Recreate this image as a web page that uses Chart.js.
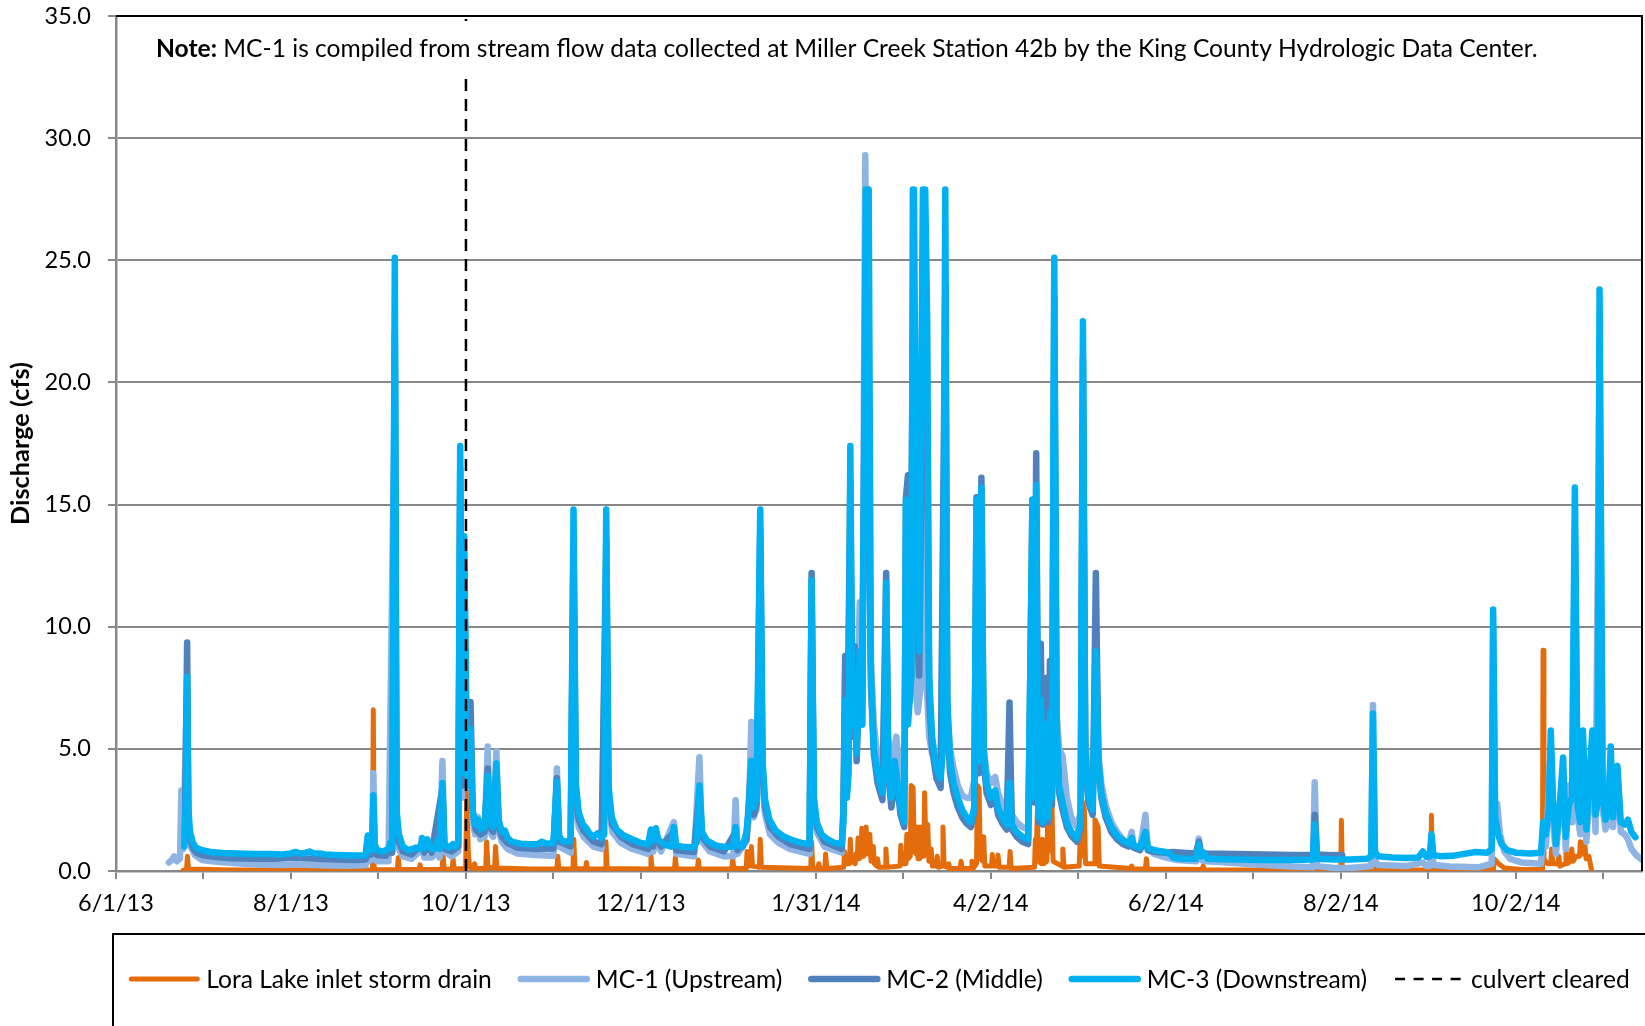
<!DOCTYPE html>
<html>
<head>
<meta charset="utf-8">
<title>Miller Creek discharge</title>
<script src="https://cdn.jsdelivr.net/npm/chart.js@4.4.1/dist/chart.umd.min.js"></script>
<style>
  html, body { margin: 0; padding: 0; background: #fff; }
  #wrap { width: 1645px; height: 1026px; }
</style>
</head>
<body>
<div id="wrap"><canvas id="flow" width="1645" height="1026"></canvas></div>
<script>
// ---- record dates and axis labels ----
const RECORD_START = '6/1/13';          // day 0 of every series below
const AXIS_END = '11/15/14';
const CULVERT_CLEARED = '10/1/13';
const tickLabels = ['6/1/13', '8/1/13', '10/1/13', '12/1/13', '1/31/14', '4/2/14', '6/2/14', '8/2/14', '10/2/14'];
const yMax = 35;
const yStep = 5;

const seriesNames = ['Lora Lake inlet storm drain', 'MC-1 (Upstream)', 'MC-2 (Middle)', 'MC-3 (Downstream)', 'culvert cleared'];
const noteLead = 'Note:';
const noteBody = ' MC-1 is compiled from stream flow data collected at Miller Creek Station 42b by the King County Hydrologic Data Center.';
const yTitle = 'Discharge (cfs)';

// ---- discharge records: [days since RECORD_START, cfs] ----
const loraLake = [
  [23.4, 0.03], [24.6, 0.08], [24.9, 0.6], [25.3, 0.08], [40, 0.04], [60, 0.04], [80, 0.04], [89.4, 0.05], [89.7, 6.6], [90.0, 0.15],
  [90.5, 0.05], [98.1, 0.06], [98.4, 0.55], [98.8, 0.06], [105.7, 0.06], [106, 0.25], [106.4, 0.06], [113.7, 0.06], [114, 0.7], [114.4, 0.08],
  [117.2, 0.06], [117.5, 0.5], [117.9, 0.08], [121.9, 0.1], [122.3, 3.3], [122.8, 0.8], [123.3, 0.15], [124.7, 0.1], [125, 0.3], [125.4, 0.1],
  [128.9, 0.1], [129.2, 1.2], [129.7, 0.15], [132, 0.12], [132.3, 1.0], [132.8, 0.12], [145, 0.08], [153.7, 0.08], [154, 0.6], [154.4, 0.08],
  [159.3, 0.08], [159.6, 1.3], [160, 0.1], [163.7, 0.08], [164, 0.35], [164.4, 0.08], [170.5, 0.08], [170.8, 1.2], [171.2, 0.1], [186.2, 0.08],
  [186.5, 0.6], [186.9, 0.08], [194.7, 0.08], [195, 0.55], [195.4, 0.08], [202.7, 0.08], [203, 0.45], [203.4, 0.08], [214.7, 0.08], [215, 0.5],
  [215.4, 0.1], [219.7, 0.1], [220, 0.8], [220.4, 0.2], [221.2, 0.2], [221.5, 1.0], [221.9, 0.2], [224.3, 0.15], [224.6, 1.3], [225, 0.15],
  [242.2, 0.1], [242.5, 1.2], [242.9, 0.1], [244.7, 0.1], [245, 0.3], [245.4, 0.1], [247.1, 0.1], [247.4, 0.7], [247.8, 0.1], [253.7, 0.15],
  [254, 0.8], [254.4, 0.3], [255.7, 0.3], [256, 1.3], [256.4, 0.4], [257.7, 0.3], [258, 0.7], [258.4, 0.5], [258.7, 1.35], [259.1, 0.5],
  [259.7, 0.6], [260, 1.75], [260.5, 0.6], [261.2, 0.7], [261.5, 1.8], [262, 0.7], [262.5, 0.7], [262.8, 1.5], [263.2, 0.4], [263.7, 0.4],
  [264, 1.0], [264.4, 0.3], [265.2, 0.2], [265.5, 0.5], [265.9, 0.15], [268.1, 0.15], [268.4, 0.9], [268.8, 0.15], [273.3, 0.2], [273.6, 1.05],
  [274, 0.3], [275.4, 0.3], [275.7, 1.5], [276.1, 0.5], [276.9, 0.6], [277.2, 3.5], [277.9, 3.4], [278.3, 0.8], [278.9, 0.7], [279.2, 1.8],
  [279.6, 0.5], [280.2, 0.5], [280.5, 1.8], [280.9, 0.6], [281.6, 0.6], [281.9, 3.2], [282.4, 0.8], [282.7, 0.8], [283, 1.9], [283.4, 0.4],
  [283.9, 0.4], [284.2, 0.9], [284.6, 0.2], [286, 0.2], [286.3, 0.6], [286.7, 0.15], [288, 0.2], [288.3, 1.8], [288.7, 0.2], [290, 0.15],
  [290.3, 0.3], [290.7, 0.1], [294.3, 0.1], [294.6, 0.4], [295, 0.1], [298.1, 0.1], [298.4, 0.4], [298.8, 0.1], [300, 0.3], [300.3, 3.5],
  [300.9, 3.4], [301.3, 0.5], [302.2, 0.4], [302.5, 1.4], [302.9, 0.2], [305.2, 0.2], [305.5, 0.68], [305.9, 0.2], [307.2, 0.2], [307.5, 0.65],
  [307.9, 0.15], [311.4, 0.15], [311.7, 0.8], [312.1, 0.1], [320.2, 0.15], [320.5, 1.3], [320.8, 0.6], [321.2, 2.4], [321.6, 0.4], [322.7, 0.3],
  [323, 1.3], [323.4, 0.3], [324.5, 0.4], [324.8, 2.2], [325.2, 0.8], [325.6, 2.8], [326.3, 2.7], [326.7, 0.4], [329.8, 0.2], [330.1, 0.9],
  [330.5, 0.15], [335.8, 0.2], [336.1, 1.2], [336.5, 0.6], [336.8, 2.86], [337.6, 2.5], [338, 0.3], [341, 0.3], [341.3, 2.1], [342.4, 1.8],
  [342.8, 0.2], [353.8, 0.1], [354.1, 0.2], [354.5, 0.08], [358.9, 0.08], [359.2, 0.5], [359.6, 0.08], [378.7, 0.06], [379, 0.2], [379.4, 0.05],
  [418.2, 0.04], [418.5, 0.15], [418.9, 0.04], [427, 0.04], [427.2, 2.08], [427.5, 0.04], [438, 0.04], [438.2, 0.3], [438.5, 0.04], [458.4, 0.05],
  [458.6, 2.28], [458.9, 0.05], [480.2, 0.05], [480.5, 0.5], [482, 0.3], [484, 0.12], [490, 0.06], [497.3, 0.06], [497.5, 9.04], [497.8, 0.5],
  [499, 0.3], [500.2, 0.3], [500.5, 0.9], [500.9, 0.3], [502.7, 0.3], [503, 0.6], [503.4, 0.2], [505.2, 0.3], [505.5, 0.9], [505.9, 0.3],
  [507.2, 0.4], [507.5, 0.9], [508, 0.4], [509, 0.6], [510.2, 0.6], [510.5, 1.2], [511, 0.7], [511.7, 0.7], [512, 1.2], [512.5, 0.5],
  [513.5, 0.6], [514.4, 0.03]
];

const mc1 = [
  [18.4, 0.35], [19.5, 0.45], [20.2, 0.6], [21.2, 0.4], [22.3, 0.5], [22.8, 3.3], [23.4, 0.9], [24.8, 7.5], [25.3, 1.8], [26, 1.0],
  [27.5, 0.65], [30, 0.45], [35, 0.38], [42, 0.32], [50, 0.27], [58, 0.25], [63, 0.28], [68, 0.25], [75, 0.23], [82, 0.22],
  [87, 0.24], [87.8, 1.2], [88.4, 0.4], [89.3, 0.5], [89.7, 4.0], [90.2, 0.7], [91, 0.4], [95, 0.4], [97.2, 20.0], [97.8, 1.9],
  [98.6, 0.9], [100, 0.6], [103, 0.5], [106.7, 0.9], [107.5, 0.55], [110, 0.55], [112, 0.8], [112.8, 0.55], [113.8, 4.5], [114.5, 0.8],
  [117, 0.6], [119.3, 0.8], [120, 15.0], [120.6, 3.0], [121.4, 11.5], [122.3, 4.0], [123.6, 4.5], [124.4, 2.0], [125.2, 1.5], [126.3, 2.2],
  [127, 1.3], [128.5, 1.4], [129.6, 5.1], [130.3, 1.6], [131.5, 1.4], [132.6, 4.9], [133.4, 1.7], [134.5, 1.2], [136.5, 0.9], [140, 0.72],
  [146, 0.65], [152.5, 0.62], [153.7, 4.2], [154.5, 1.0], [158.5, 0.75], [159.5, 12.5], [160.3, 2.8], [161.3, 1.8], [163, 1.4], [166.5, 1.0],
  [169.3, 0.9], [170.9, 12.5], [171.7, 2.8], [173, 1.6], [176, 1.15], [180, 0.9], [185.5, 0.7], [186.5, 1.3], [187.3, 0.8], [188.2, 1.3],
  [190, 0.8], [194.5, 2.0], [195.3, 0.7], [201.5, 0.6], [203.4, 4.66], [204.3, 1.2], [207, 0.8], [212, 0.6], [215.2, 0.6], [216, 2.9],
  [216.7, 0.7], [219.8, 1.2], [220.6, 2.2], [221.5, 6.1], [222.3, 2.2], [223.3, 2.5], [224.6, 13.0], [225.4, 3.5], [226.3, 2.3], [228, 1.5],
  [231, 1.15], [235, 0.9], [241.8, 0.7], [242.5, 11.0], [243.3, 2.4], [244.3, 1.6], [247, 1.0], [253, 0.75], [253.6, 2.5], [254.2, 8.0],
  [254.8, 3.5], [256.0, 14.0], [256.7, 6.5], [257.5, 9.0], [258.2, 6.0], [259.3, 11.0], [260.2, 7.0], [261.2, 29.3], [262.3, 16.0], [263.2, 8.5],
  [264.2, 6.0], [265.5, 4.6], [267.2, 3.6], [268.5, 10.5], [269.2, 5.5], [270.3, 4.0], [272, 5.5], [273.5, 3.8], [274.8, 3.2], [275.4, 12.0],
  [276.1, 8.0], [277.0, 7.5], [277.8, 22.0], [278.6, 8.0], [279.5, 6.5], [280.5, 7.5], [281.5, 20.0], [282.5, 8.0], [283.5, 5.5], [284.5, 4.8],
  [286, 4.6], [287.5, 4.2], [289.1, 20.0], [289.8, 6.5], [290.8, 5.0], [292, 4.2], [293.5, 3.5], [295, 3.1], [296.5, 3.0], [298, 3.0],
  [299.2, 3.7], [300.0, 12.0], [300.8, 4.5], [301.7, 13.0], [302.5, 5.0], [303.5, 4.0], [305, 3.6], [306.5, 3.85], [307.5, 3.2], [309, 2.7],
  [310.5, 2.4], [311.5, 5.0], [312.3, 2.3], [314, 2.0], [316, 1.8], [318, 1.7], [319.5, 12.0], [320.2, 3.0], [320.8, 14.0], [321.6, 2.4],
  [322.4, 7.5], [323.2, 2.4], [324.3, 6.5], [325.0, 2.5], [325.6, 7.0], [326.3, 3.2], [327.1, 21.0], [327.9, 6.5], [328.8, 5.0], [330, 4.7],
  [331.5, 3.0], [333, 2.2], [335, 1.8], [336.3, 2.4], [337.1, 19.0], [337.9, 5.5], [339, 3.5], [340.5, 3.0], [341.6, 10.0], [342.5, 4.8],
  [343.5, 3.6], [345, 2.7], [347, 2.0], [349, 1.6], [351, 1.3], [353, 1.1], [354.1, 1.6], [354.8, 1.0], [357, 0.9], [358.9, 2.3],
  [359.7, 0.9], [362, 0.7], [366, 0.55], [370, 0.45], [376.5, 0.4], [377.5, 1.33], [378.3, 0.45], [380, 0.4], [390, 0.33], [400, 0.25],
  [410, 0.18], [417.3, 0.15], [417.9, 3.63], [418.7, 0.2], [425, 0.12], [430, 0.12], [437.6, 0.2], [438.2, 6.8], [438.9, 0.4], [440, 0.25],
  [450, 0.2], [455.6, 0.35], [456.8, 0.2], [458.0, 0.2], [458.6, 1.3], [459.3, 0.25], [465, 0.18], [475, 0.15], [479.6, 0.3], [480.1, 10.0],
  [480.8, 2.0], [481.5, 2.76], [482.5, 1.5], [484, 0.8], [486, 0.5], [490, 0.35], [496.8, 0.3], [497.5, 1.5], [498.5, 1.0], [500.2, 5.0],
  [501, 2.0], [502, 0.7], [504.5, 4.0], [505.4, 0.9], [506.5, 3.5], [507.6, 2.0], [508.6, 14.0], [509.6, 2.2], [510.5, 1.5], [511.4, 5.0],
  [512.6, 1.2], [514.7, 5.0], [515.8, 1.6], [517.2, 21.0], [518.3, 2.5], [519.3, 1.7], [520.2, 2.0], [521.1, 4.6], [521.9, 1.8], [523.4, 4.2],
  [524.6, 1.6], [526, 1.5], [527.1, 1.3], [528.3, 0.9], [530, 0.65], [532, 0.46]
];

const mc2 = [
  [24.0, 1.5], [24.8, 9.35], [25.2, 2.2], [25.8, 1.3], [26.8, 0.95], [28, 0.75], [30, 0.65], [34, 0.58], [40, 0.52], [48, 0.5],
  [56, 0.5], [62.5, 0.55], [66, 0.52], [70, 0.5], [76, 0.47], [84, 0.45], [87, 0.47], [87.8, 1.4], [88.4, 0.65], [89.3, 0.7],
  [89.7, 2.6], [90.2, 0.9], [91, 0.65], [94, 0.62], [95.6, 0.9], [96.3, 0.75], [97.2, 22.0], [97.8, 2.2], [98.6, 1.2], [100, 0.8],
  [103, 0.68], [106.7, 1.1], [107.5, 0.75], [108.5, 1.05], [110, 0.75], [113.8, 3.4], [114.5, 0.9], [117, 0.8], [119.3, 1.0], [120, 16.5],
  [120.6, 3.5], [121.4, 12.5], [122.3, 4.5], [123.6, 6.92], [124.4, 2.4], [125.4, 1.7], [127, 1.5], [128.5, 1.6], [129.6, 4.2], [130.3, 1.8],
  [131.5, 1.6], [132.6, 4.0], [133.4, 1.9], [134.5, 1.4], [136.5, 1.15], [140, 0.95], [146, 0.9], [152.5, 0.92], [153.7, 3.8], [154.5, 1.2],
  [158.5, 1.0], [159.5, 13.5], [160.3, 3.2], [161.3, 2.1], [163, 1.65], [166.5, 1.2], [169.3, 1.1], [170.9, 13.5], [171.7, 3.1], [173, 1.9],
  [176, 1.4], [180, 1.1], [185.5, 0.9], [186.5, 1.5], [187.3, 1.0], [188.2, 1.5], [190, 1.0], [194.5, 1.6], [195.3, 0.85], [201.5, 0.78],
  [203.4, 3.3], [204.3, 1.4], [207, 1.0], [212, 0.8], [216, 1.6], [216.7, 0.85], [219.8, 1.3], [221.5, 4.5], [222.3, 2.3], [223.3, 2.7],
  [224.6, 14.0], [225.4, 4.0], [226.3, 2.6], [228, 1.8], [231, 1.4], [235, 1.1], [241.8, 0.9], [242.5, 12.2], [243.3, 2.7], [244.3, 1.8],
  [247, 1.2], [253, 0.9], [253.6, 2.5], [254.2, 8.8], [254.8, 3.2], [256.0, 16.0], [256.7, 5.5], [257.5, 9.2], [258.2, 4.5], [259.3, 8.5],
  [260, 6.0], [261.6, 26.5], [263.2, 7.5], [264.2, 4.8], [265.5, 3.6], [267.2, 2.9], [268.5, 12.2], [269.2, 4.0], [270.3, 2.6], [272, 4.0],
  [273.5, 2.3], [274.8, 1.8], [275.4, 15.3], [276.1, 16.2], [276.8, 7.0], [278, 25.0], [279.0, 10.5], [280.0, 8.0], [281.7, 25.0], [282.8, 18.0],
  [283.5, 7.0], [284.5, 5.0], [286, 3.8], [287.5, 3.4], [289.1, 24.0], [289.8, 6.0], [290.8, 4.0], [292, 3.2], [293.5, 2.6], [295, 2.2],
  [296.5, 1.95], [298, 1.8], [299.2, 2.4], [300.0, 15.3], [300.8, 4.0], [301.7, 16.1], [302.5, 4.5], [303.5, 3.2], [305, 2.7], [306.5, 3.1],
  [307.5, 2.3], [309, 1.95], [310.5, 1.7], [311.5, 6.9], [312.3, 1.7], [314, 1.4], [316, 1.2], [318, 1.1], [319.5, 15.2], [320.2, 2.8],
  [320.8, 17.1], [321.6, 2.0], [322.4, 9.3], [323.2, 1.9], [324.3, 7.9], [325.0, 2.0], [325.6, 8.6], [326.3, 2.7], [327.1, 23.5], [327.9, 5.5],
  [328.8, 3.2], [330, 2.5], [331.5, 1.8], [333, 1.45], [335, 1.2], [336.3, 1.8], [337.1, 21.0], [337.9, 4.6], [339, 2.8], [340.5, 2.3],
  [341.6, 12.2], [342.5, 4.2], [343.5, 3.0], [345, 2.2], [347, 1.6], [349, 1.3], [351, 1.1], [353, 1.0], [354.1, 1.2], [354.8, 0.95],
  [357, 0.85], [358.9, 1.4], [359.7, 0.85], [362, 0.78], [366, 0.75], [368.5, 0.78], [372, 0.75], [376.5, 0.72], [377.5, 1.2], [378.3, 0.75],
  [380, 0.72], [390, 0.7], [400, 0.68], [410, 0.66], [417.3, 0.66], [417.9, 2.3], [418.7, 0.68], [424, 0.65], [427.5, 0.64]
];

const mc3 = [
  [23.8, 1.0], [24.4, 3.0], [24.8, 7.95], [25.2, 2.6], [25.8, 1.6], [26.8, 1.15], [28, 0.95], [30, 0.85], [33, 0.78], [37, 0.74],
  [42, 0.72], [48, 0.7], [54, 0.7], [58, 0.68], [61, 0.72], [62.5, 0.78], [64, 0.72], [66, 0.74], [67.5, 0.8], [69, 0.72],
  [71, 0.72], [73, 0.68], [76, 0.66], [80, 0.64], [84, 0.63], [87, 0.65], [87.8, 1.45], [88.4, 0.85], [89.3, 0.9], [89.7, 3.1],
  [90.2, 1.1], [91, 0.85], [93, 0.8], [95, 0.9], [95.6, 1.15], [96.3, 0.95], [97.2, 25.1], [97.8, 2.5], [98.6, 1.5], [100, 1.0],
  [102, 0.85], [104.4, 0.95], [106.2, 0.9], [106.7, 1.35], [107.3, 0.95], [108.5, 1.3], [109.5, 0.95], [111, 0.9], [112, 1.25], [112.8, 0.9],
  [113.8, 3.6], [114.5, 1.1], [116, 0.95], [117.5, 1.1], [118.5, 1.0], [119.3, 1.2], [120.0, 17.4], [120.6, 4.0], [121.4, 13.7], [122.2, 5.0],
  [122.8, 3.5], [123.6, 5.8], [124.3, 2.5], [125.2, 1.9], [126.3, 2.1], [127, 1.7], [128.5, 1.8], [129.6, 3.9], [130.3, 2.0], [131.5, 1.8],
  [132.6, 4.4], [133.4, 2.1], [134.5, 1.6], [135.6, 1.65], [136.5, 1.35], [138, 1.2], [141, 1.12], [144, 1.1], [147, 1.1], [148.5, 1.2],
  [150, 1.12], [152.5, 1.15], [153.7, 3.65], [154.5, 1.4], [156, 1.2], [158.5, 1.25], [159.5, 14.8], [160.3, 3.6], [161.3, 2.4], [162.8, 1.9],
  [164, 1.75], [165, 1.55], [166.5, 1.4], [168, 1.55], [169.3, 1.35], [170.2, 1.5], [170.9, 14.8], [171.7, 3.5], [172.8, 2.2], [174.5, 1.7],
  [177, 1.45], [180, 1.3], [183, 1.15], [185.5, 1.1], [186.5, 1.7], [187.3, 1.25], [188.2, 1.75], [189, 1.3], [191, 1.1], [193.5, 1.0],
  [194.5, 1.8], [195.3, 1.05], [198, 0.98], [201.5, 0.97], [202.5, 1.2], [203.4, 3.5], [204.3, 1.6], [206, 1.25], [209, 1.05], [212, 0.98],
  [215.2, 1.0], [216.0, 1.8], [216.7, 1.05], [218.5, 1.0], [219.8, 1.6], [220.6, 2.5], [221.5, 4.5], [222.3, 2.6], [223.3, 3.0], [224.6, 14.8],
  [225.4, 4.5], [226.3, 2.9], [227.8, 2.1], [230, 1.65], [233, 1.4], [236, 1.25], [239, 1.15], [241.8, 1.1], [242.5, 11.9], [243.3, 3.0],
  [244.3, 2.0], [246, 1.5], [248, 1.3], [250.5, 1.15], [253, 1.1], [253.6, 2.0], [254.2, 7.0], [254.8, 3.0], [255.4, 4.0], [256.0, 17.4],
  [256.7, 6.0], [257.5, 8.0], [258.2, 4.8], [259.3, 9.0], [260.2, 6.0], [261.4, 27.9], [262.4, 27.9], [263.2, 8.0], [264.2, 5.0], [265.5, 4.0],
  [267.2, 3.2], [268.0, 5.0], [268.5, 11.8], [269.2, 4.5], [270.3, 3.0], [271.5, 4.5], [273.5, 2.6], [274.8, 2.0], [275.4, 15.2], [276.1, 6.0],
  [277.3, 8.0], [277.8, 27.9], [278.2, 27.9], [279.0, 12.0], [280.0, 9.0], [281.3, 27.9], [282.1, 27.9], [282.8, 22.5], [283.5, 8.0], [284.5, 5.5],
  [286, 4.2], [287.5, 3.8], [288.3, 5.0], [289.1, 27.9], [289.8, 7.0], [290.8, 4.5], [292, 3.6], [293.5, 3.0], [295, 2.5], [296.5, 2.2],
  [298, 2.0], [299.2, 2.6], [300.0, 15.2], [300.8, 4.5], [301.7, 15.7], [302.5, 5.0], [303.5, 3.6], [305, 3.0], [306.5, 3.3], [307.5, 2.6],
  [309, 2.2], [310.5, 1.9], [311.5, 3.6], [312.3, 1.9], [314, 1.6], [316, 1.4], [318, 1.3], [319.5, 15.2], [320.2, 3.0], [320.8, 15.8],
  [321.6, 2.2], [322.4, 7.0], [323.2, 2.0], [324.3, 6.0], [325.0, 2.2], [325.6, 6.5], [326.3, 3.0], [327.1, 25.1], [327.9, 6.0], [328.8, 3.5],
  [330, 2.8], [331.5, 2.0], [333, 1.6], [335, 1.35], [336.3, 2.0], [337.1, 22.5], [337.9, 5.0], [339, 3.0], [340.5, 2.5], [341.6, 9.0],
  [342.5, 4.5], [343.5, 3.2], [345, 2.4], [347, 1.8], [349, 1.45], [351, 1.25], [353, 1.12], [354.1, 1.35], [354.8, 1.05], [357, 0.95],
  [358.9, 1.6], [359.7, 0.95], [362, 0.85], [366, 0.78], [367.5, 0.7], [368.5, 0.55], [372, 0.5], [376.5, 0.5], [377.5, 1.1], [378.3, 0.6],
  [379.3, 0.75], [380.5, 0.5], [390, 0.47], [400, 0.45], [410, 0.45], [417.3, 0.47], [417.9, 1.9], [418.7, 0.5], [425, 0.47], [430, 0.47],
  [436, 0.5], [437.6, 0.6], [438.2, 6.45], [438.9, 0.8], [440, 0.6], [445, 0.55], [450, 0.53], [454, 0.55], [455.6, 0.8], [456.8, 0.58],
  [458.0, 0.6], [458.6, 1.5], [459.3, 0.65], [462, 0.6], [466, 0.62], [470, 0.7], [474, 0.78], [478, 0.75], [479.6, 0.9], [480.1, 10.7],
  [480.8, 2.2], [481.8, 1.5], [483, 1.1], [485, 0.85], [488, 0.75], [493, 0.72], [496.8, 0.75], [497.5, 2.0], [498.5, 1.5], [499.5, 2.5],
  [500.2, 5.75], [501, 2.8], [502, 1.1], [503.2, 2.5], [504.5, 4.65], [505.4, 1.4], [506.5, 2.7], [507.6, 3.0], [508.6, 15.7], [509.6, 2.6],
  [510.5, 2.0], [511.4, 5.75], [512.6, 1.7], [514.7, 5.75], [515.8, 2.3], [516.5, 2.8], [517.2, 23.8], [518.3, 3.0], [519.3, 2.1], [520.2, 2.4],
  [521.1, 5.1], [521.9, 2.2], [523.4, 4.3], [524.6, 2.0], [526, 1.9], [527.1, 2.1], [528.3, 1.6], [529.7, 1.38]
];

// ---- helpers ----
function parseMDY(label) {
  const [m, d, y] = label.split('/').map(Number);
  return Date.UTC(2000 + y, m - 1, d);
}
const DAY_MS = 86400000;
const dayOf = label => Math.round((parseMDY(label) - parseMDY(RECORD_START)) / DAY_MS);
const toPoints = rows => rows.map(([d, v]) => ({ x: d, y: v }));

const majorDays = tickLabels.map(dayOf);
const majorStep = majorDays[1] - majorDays[0];
const tickDays = [];
majorDays.forEach(d => { tickDays.push(d); tickDays.push(d + majorStep / 2); });
const xMax = dayOf(AXIS_END);
const culvertDay = dayOf(CULVERT_CLEARED);

const FONT = 'Lato';
const TICK_SIZE = 23.5;
const TEXT_SIZE = 24.6;
const GRID_GRAY = '#878787';
const COLORS = ['#E46C0A', '#8EB4E3', '#4F81BD', '#00B0F0', '#000000'];

// ---- plot frame, note and legend row ----
const plotFrame = {
  id: 'plotFrame',
  afterDraw(chart) {
    const { ctx, chartArea: a } = chart;
    ctx.save();
    ctx.strokeStyle = '#000';
    ctx.lineWidth = 2;
    ctx.beginPath();
    ctx.moveTo(a.left, a.top);
    ctx.lineTo(a.right, a.top);
    ctx.lineTo(a.right, a.bottom);
    ctx.stroke();
    ctx.restore();
  }
};

const noteBox = {
  id: 'noteBox',
  afterDatasetsDraw(chart) {
    const { ctx, chartArea: a } = chart;
    ctx.save();
    ctx.font = `bold ${TEXT_SIZE}px ${FONT}`;
    const wLead = ctx.measureText(noteLead).width;
    ctx.font = `${TEXT_SIZE}px ${FONT}`;
    const wBody = ctx.measureText(noteBody).width;
    const x = a.left + 40;
    const base = a.top + 40.5;
    ctx.fillStyle = '#fff';
    ctx.fillRect(x - 10, a.top + 5, wLead + wBody + 20, 52);
    ctx.fillStyle = '#000';
    ctx.textBaseline = 'alphabetic';
    ctx.font = `bold ${TEXT_SIZE}px ${FONT}`;
    ctx.fillText(noteLead, x, base);
    ctx.font = `${TEXT_SIZE}px ${FONT}`;
    ctx.fillText(noteBody, x + wLead, base);
    ctx.restore();
  }
};

const legendRow = {
  id: 'legendRow',
  afterDraw(chart) {
    const { ctx, chartArea: a, width } = chart;
    const boxTop = a.bottom + 63;
    const rowY = a.bottom + 108;
    ctx.save();
    ctx.strokeStyle = '#000';
    ctx.lineWidth = 2;
    ctx.strokeRect(a.left - 3, boxTop, width + 40, 300);

    ctx.font = `${TEXT_SIZE}px ${FONT}`;
    const sample = 72, textGap = 6, itemGap = 26;
    const items = chart.data.datasets.map(ds => ({
      text: ds.label,
      color: ds.borderColor,
      dashed: !!(ds.borderDash && ds.borderDash.length),
      lw: ds.legendWidth || ds.borderWidth,
      w: ctx.measureText(ds.label).width
    }));
    const total = items.reduce((s, it) => s + sample + textGap + it.w, 0) + itemGap * (items.length - 1);
    let x = (a.left + a.right) / 2 - total / 2;
    ctx.textBaseline = 'middle';
    ctx.fillStyle = '#000';
    items.forEach(it => {
      ctx.beginPath();
      ctx.strokeStyle = it.color;
      if (it.dashed) {
        ctx.lineWidth = 2.5;
        ctx.lineCap = 'butt';
        ctx.setLineDash([10, 8.5]);
        ctx.moveTo(x + 2, rowY);
        ctx.lineTo(x + sample - 2, rowY);
      } else {
        ctx.lineWidth = it.lw;
        ctx.lineCap = 'round';
        ctx.setLineDash([]);
        ctx.moveTo(x + 3, rowY);
        ctx.lineTo(x + sample - 3, rowY);
      }
      ctx.stroke();
      ctx.setLineDash([]);
      ctx.fillText(it.text, x + sample + textGap, rowY + 1);
      x += sample + textGap + it.w + itemGap;
    });
    ctx.restore();
  }
};

// ---- chart ----
const lineSet = (i, rows, width, order) => ({
  label: seriesNames[i],
  data: toPoints(rows),
  borderColor: COLORS[i],
  borderWidth: width,
  legendWidth: width,
  order
});

new Chart(document.getElementById('flow'), {
  type: 'line',
  data: {
    datasets: [
      lineSet(0, loraLake, 5, 4),
      lineSet(1, mc1, 6.5, 3),
      lineSet(2, mc2, 6.5, 2),
      lineSet(3, mc3, 6.5, 1),
      {
        label: seriesNames[4],
        data: [{ x: culvertDay, y: 0 }, { x: culvertDay, y: yMax }],
        borderColor: COLORS[4],
        borderWidth: 2.5,
        borderDash: [12, 8],
        borderCapStyle: 'butt',
        order: 0
      }
    ]
  },
  options: {
    responsive: false,
    animation: false,
    devicePixelRatio: 1,
    parsing: false,
    elements: {
      point: { radius: 0, hoverRadius: 0 },
      line: { tension: 0, borderJoinStyle: 'round', borderCapStyle: 'round', fill: false }
    },
    layout: { padding: { top: 16, right: 3, bottom: 0, left: 0 } },
    plugins: { legend: { display: false }, tooltip: { enabled: false } },
    events: [],
    scales: {
      x: {
        type: 'linear',
        min: 0,
        max: xMax,
        afterFit: s => { s.height = 155; s.paddingLeft = 0; s.paddingRight = 0; },
        afterBuildTicks: s => { s.ticks = tickDays.map(v => ({ value: v })); },
        grid: { drawOnChartArea: false, drawTicks: true, tickLength: 8, color: GRID_GRAY, lineWidth: 2 },
        border: { display: true, color: GRID_GRAY, width: 2.5 },
        ticks: {
          autoSkip: false,
          maxRotation: 0,
          minRotation: 0,
          padding: 10.5,
          color: '#000',
          font: { family: FONT, size: TICK_SIZE },
          callback: v => {
            const i = majorDays.indexOf(v);
            return i >= 0 ? tickLabels[i] : '';
          }
        }
      },
      y: {
        min: 0,
        max: yMax,
        afterFit: s => { s.width = 116; s.paddingTop = 0; s.paddingBottom = 0; },
        ticks: {
          stepSize: yStep,
          padding: 17,
          color: '#000',
          font: { family: FONT, size: TICK_SIZE },
          callback: v => Number(v).toFixed(1)
        },
        grid: { color: GRID_GRAY, lineWidth: 2, tickLength: 8, drawTicks: true },
        border: { color: GRID_GRAY, width: 2.5 },
        title: {
          display: true,
          text: yTitle,
          color: '#000',
          font: { family: FONT, size: 25.3, weight: 'bold' },
          padding: { top: 6, bottom: 0 }
        }
      }
    }
  },
  plugins: [noteBox, plotFrame, legendRow]
});
</script>
</body>
</html>
